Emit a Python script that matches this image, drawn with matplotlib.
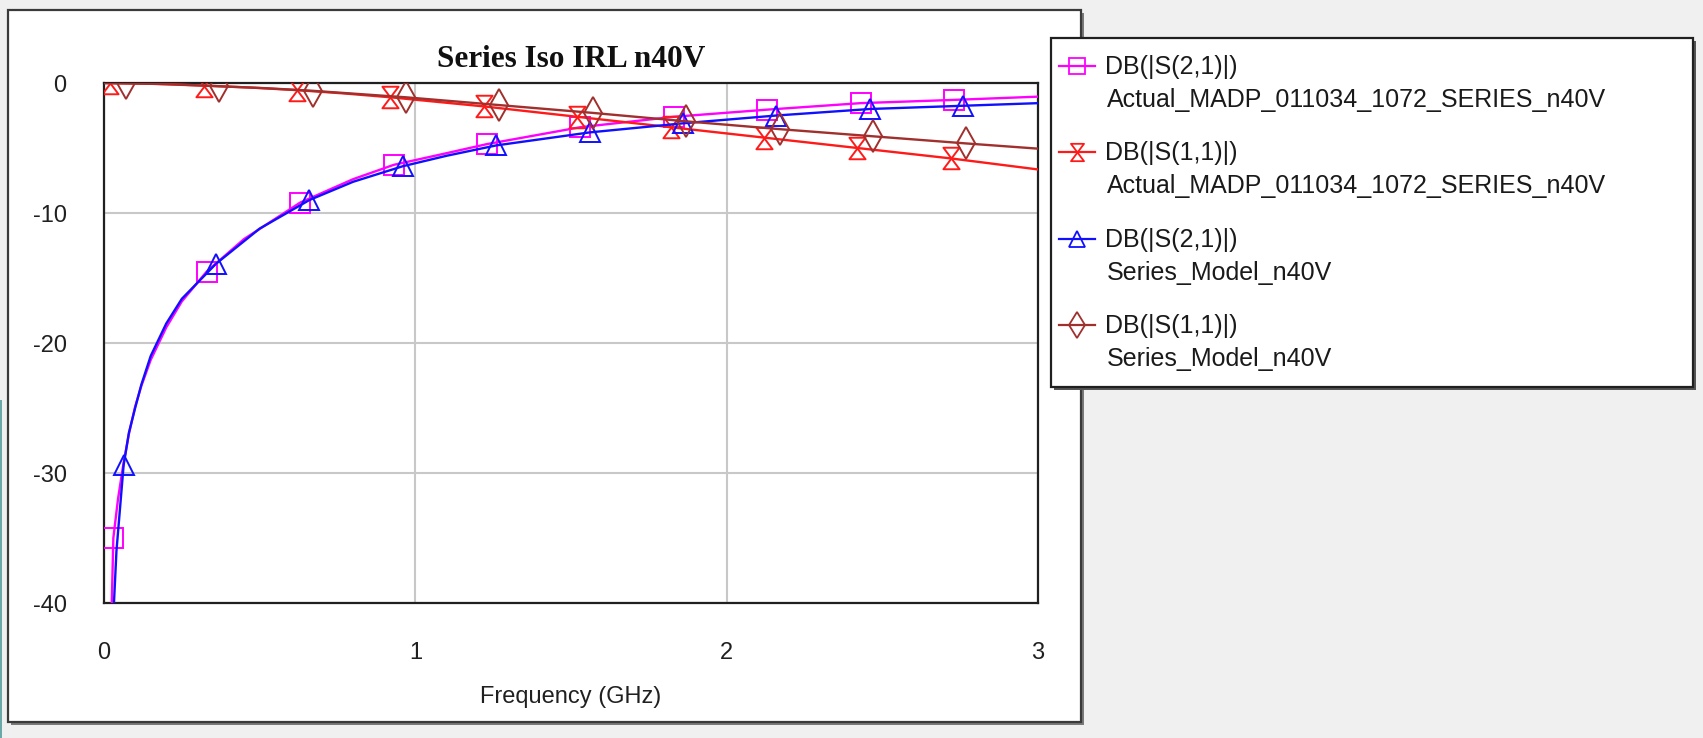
import matplotlib
matplotlib.use("Agg")
import matplotlib.pyplot as plt
from matplotlib.patches import Rectangle
from matplotlib.path import Path
from matplotlib.lines import Line2D

# ---------------- data ----------------
title = "Series Iso IRL n40V"
xlabel = "Frequency (GHz)"
x_ticks = [0, 1, 2, 3]
y_ticks = [0, -10, -20, -30, -40]

# DB(|S(2,1)|) Actual
f_s21_act = [0.024, 0.03, 0.045, 0.061, 0.08, 0.1, 0.12, 0.15, 0.2, 0.25, 0.33, 0.45, 0.63, 0.8, 0.93,
             1.1, 1.23, 1.53, 1.83, 2.13, 2.43, 2.73, 3.0]
v_s21_act = [-41.0, -35.0, -32.0, -29.5, -27.0, -24.9, -23.3, -21.3, -18.8, -16.8, -14.5, -12.0, -9.2, -7.4, -6.3,
             -5.4, -4.7, -3.4, -2.6, -2.05, -1.55, -1.3, -1.05]
m_s21_act = [1, 10, 12, 14, 16, 17, 18, 19, 20, 21]

# DB(|S(1,1)|) Actual
f_s11_act = [0.0, 0.02, 0.15, 0.32, 0.47, 0.62, 0.77, 0.92, 1.07, 1.22, 1.52, 1.82, 2.12, 2.42, 2.72, 3.0]
v_s11_act = [0.0, -0.02, -0.06, -0.2, -0.35, -0.55, -0.8, -1.1, -1.45, -1.8, -2.6, -3.4, -4.2, -5.0, -5.8, -6.65]
m_s11_act = [1, 3, 5, 7, 9, 10, 11, 12, 13, 14]

# DB(|S(2,1)|) Model
f_s21_mod = [0.03, 0.04, 0.063, 0.08, 0.1, 0.12, 0.15, 0.2, 0.25, 0.36, 0.5, 0.66, 0.8, 0.96, 1.1, 1.26,
             1.56, 1.86, 2.16, 2.46, 2.76, 3.0]
v_s21_mod = [-41.0, -36.0, -29.4, -26.9, -25.0, -23.2, -21.0, -18.5, -16.6, -13.9, -11.2, -9.0, -7.6, -6.4, -5.6, -4.8,
             -3.8, -3.1, -2.5, -2.0, -1.75, -1.55]
m_s21_mod = [2, 9, 11, 13, 15, 16, 17, 18, 19, 20]

# DB(|S(1,1)|) Model
f_s11_mod = [0.0, 0.07, 0.2, 0.37, 0.52, 0.67, 0.82, 0.97, 1.12, 1.27, 1.57, 1.87, 2.17, 2.47, 2.77, 3.0]
v_s11_mod = [0.0, -0.02, -0.08, -0.25, -0.4, -0.6, -0.85, -1.1, -1.4, -1.7, -2.3, -2.95, -3.55, -4.1, -4.65, -5.05]
m_s11_mod = [1, 3, 5, 7, 9, 10, 11, 12, 13, 14]

legend_line1 = ["DB(|S(2,1)|)", "DB(|S(1,1)|)", "DB(|S(2,1)|)", "DB(|S(1,1)|)"]
legend_line2 = ["Actual_MADP_011034_1072_SERIES_n40V", "Actual_MADP_011034_1072_SERIES_n40V",
                "Series_Model_n40V", "Series_Model_n40V"]

# ---------------- styles ----------------
C_MAG = "#ff00ff"
C_RED = "#ff1a1a"
C_BLUE = "#1010ff"
C_BROWN = "#a0302d"

hourglass = Path([(-0.75, 1), (0.75, 1), (-0.75, -1), (0.75, -1), (-0.75, 1)],
                 [Path.MOVETO, Path.LINETO, Path.LINETO, Path.LINETO, Path.CLOSEPOLY])

series = [
    (f_s21_act, v_s21_act, m_s21_act, C_MAG, "s", 15),
    (f_s11_act, v_s11_act, m_s11_act, C_RED, hourglass, 15.5),
    (f_s21_mod, v_s21_mod, m_s21_mod, C_BLUE, "^", 15),
    (f_s11_mod, v_s11_mod, m_s11_mod, C_BROWN, "d", 16),
]

W, H = 1703, 738
fig = plt.figure(figsize=(W / 100, H / 100), dpi=100, facecolor="#f0f0f0")
plt.rcParams["font.family"] = ["Liberation Sans", "DejaVu Sans"]

# background overlay (pixel coordinates, y downwards)
bg = fig.add_axes([0, 0, 1, 1], zorder=0)
bg.set_xlim(0, W)
bg.set_ylim(H, 0)
bg.axis("off")
bg.add_patch(Rectangle((0, 400), 2, 338, facecolor="#6aa8a8", edgecolor="none"))
bg.add_patch(Rectangle((11, 13), 1073, 712, facecolor="#7a7a7a", edgecolor="none"))
bg.add_patch(Rectangle((8, 10), 1073, 712, facecolor="white", edgecolor="#3a3a3a", lw=1.6))

# main axes
L, R, T, B = 104, 1038, 83, 603
ax = fig.add_axes([L / W, 1 - B / H, (R - L) / W, (B - T) / H], zorder=1)
ax.set_facecolor("white")
for f, v, mk, c, m, ms in series:
    ax.plot(f, v, color=c, lw=1.7, marker=m, markevery=mk, ms=ms,
            mfc="none", mec=c, mew=1.4, zorder=3)
ax.set_xlim(0, 3)
ax.set_ylim(-40, 0)
ax.set_xticks(x_ticks)
ax.set_yticks(y_ticks)
ax.set_xticklabels([str(t) for t in x_ticks])
ax.set_yticklabels([str(t) for t in y_ticks])
ax.tick_params(length=0, labelsize=17, colors="#202020")
ax.tick_params(axis="y", pad=27)
ax.tick_params(axis="x", pad=28)
ax.grid(True, color="#c8c8c8", lw=1.5)
ax.set_axisbelow(True)
for s in ax.spines.values():
    s.set_color("#202020")
    s.set_linewidth(1.6)
ax.set_xlabel(xlabel, fontsize=17, color="#202020", labelpad=16)
fig.text((L + R) / 2 / W, 1 - 67 / H, title, ha="center", va="baseline",
         fontsize=22.5, fontweight="bold", family=["Liberation Serif", "DejaVu Serif"],
         color="#101010")

# legend overlay
lg = fig.add_axes([0, 0, 1, 1], zorder=2)
lg.set_xlim(0, W)
lg.set_ylim(H, 0)
lg.axis("off")
lg.patch.set_alpha(0)
lg.add_patch(Rectangle((1054, 41), 642, 349, facecolor="#555555", edgecolor="none"))
lg.add_patch(Rectangle((1051, 38), 642, 349, facecolor="white", edgecolor="#202020", lw=1.6))
for i, (f, v, mk, c, m, ms) in enumerate(series):
    y1 = 67 + 86.3 * i
    lg.add_line(Line2D([1059, 1095], [y1 - 1, y1 - 1], color=c, lw=1.6))
    lg.add_line(Line2D([1077], [y1 - 1], color=c, marker=m, ms=ms - 3, mfc="none", mec=c, mew=1.3))
    lg.text(1105, y1, legend_line1[i], fontsize=18, va="center", ha="left", color="#1a1a1a")
    lg.text(1107, y1 + 33, legend_line2[i], fontsize=18, va="center", ha="left", color="#1a1a1a")

fig.savefig("out.png", dpi=100, facecolor=fig.get_facecolor())
